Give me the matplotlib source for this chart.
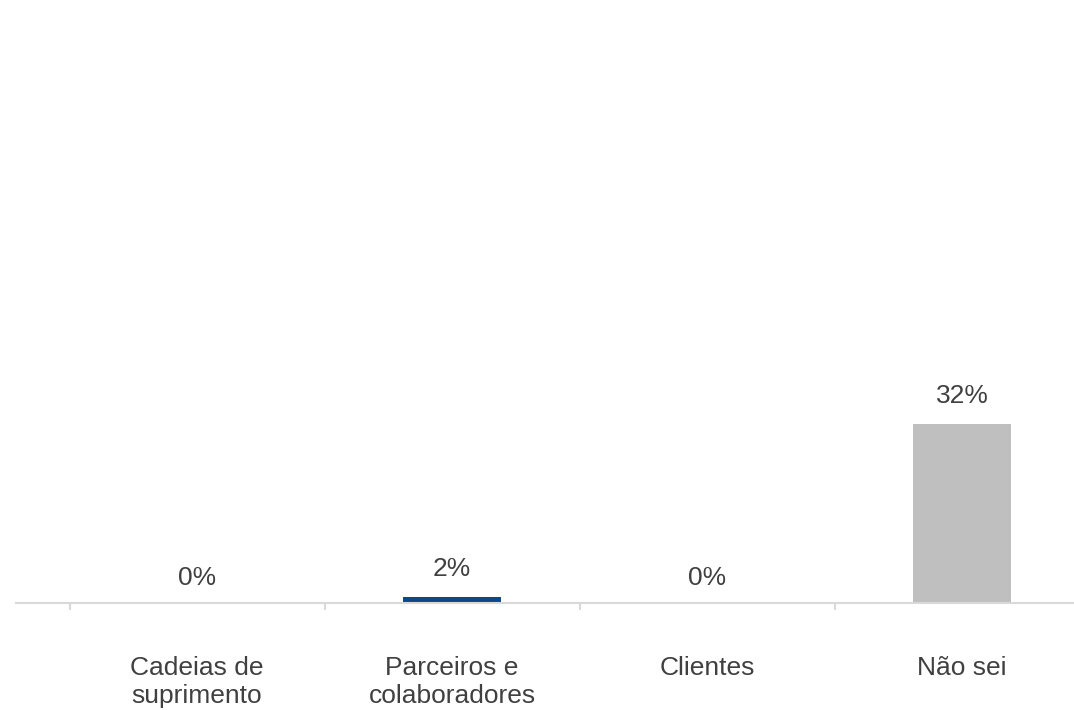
import matplotlib
matplotlib.use("Agg")
import matplotlib.pyplot as plt

categories = ["Cadeias de\nsuprimento", "Parceiros e\ncolaboradores", "Clientes", "Não sei"]
values = [0.0, 1.0, 0.0, 32.0]
value_labels = ["0%", "2%", "0%", "32%"]
bar_colors = ["#0b4a8a", "#0b4a8a", "#0b4a8a", "#bfbfbf"]

plt.rcParams['font.family'] = ['Liberation Sans', 'DejaVu Sans']
W, H = 1074, 710
fig = plt.figure(figsize=(W / 100, H / 100), dpi=100)
ax = fig.add_axes([16 / W, 107 / H, 1 - 16 / W, 1 - 107 / H])

x = list(range(len(categories)))
ax.bar(x, values, width=0.384, color=bar_colors, zorder=2)

for xi, v, lab in zip(x, values, value_labels):
    off = 28 if v > 0 else 25
    ax.annotate(lab, (xi, v), xytext=(0, off * 0.72), textcoords="offset points",
                ha="center", va="center", fontsize=19, color="#404040")

for s in ["top", "right", "left"]:
    ax.spines[s].set_visible(False)
ax.spines["bottom"].set_color("#d9d9d9")
ax.spines["bottom"].set_linewidth(1.5)
ax.set_yticks([])

ax.set_xticks(x)
ax.set_xticklabels(categories, fontsize=19, color="#404040", linespacing=1.22, va="top")
ax.tick_params(axis="x", which="major", length=0, pad=38)
ax.set_xticks([i - 0.5 for i in range(len(categories) + 1)], minor=True)
ax.tick_params(axis="x", which="minor", length=5, width=1.5, color="#d9d9d9")

px_per_unit = 5.6
ax.set_ylim(0, (H - 107) / px_per_unit)
ax.set_xlim(-0.7098, 3.439)

fig.savefig("out.png", dpi=100)
